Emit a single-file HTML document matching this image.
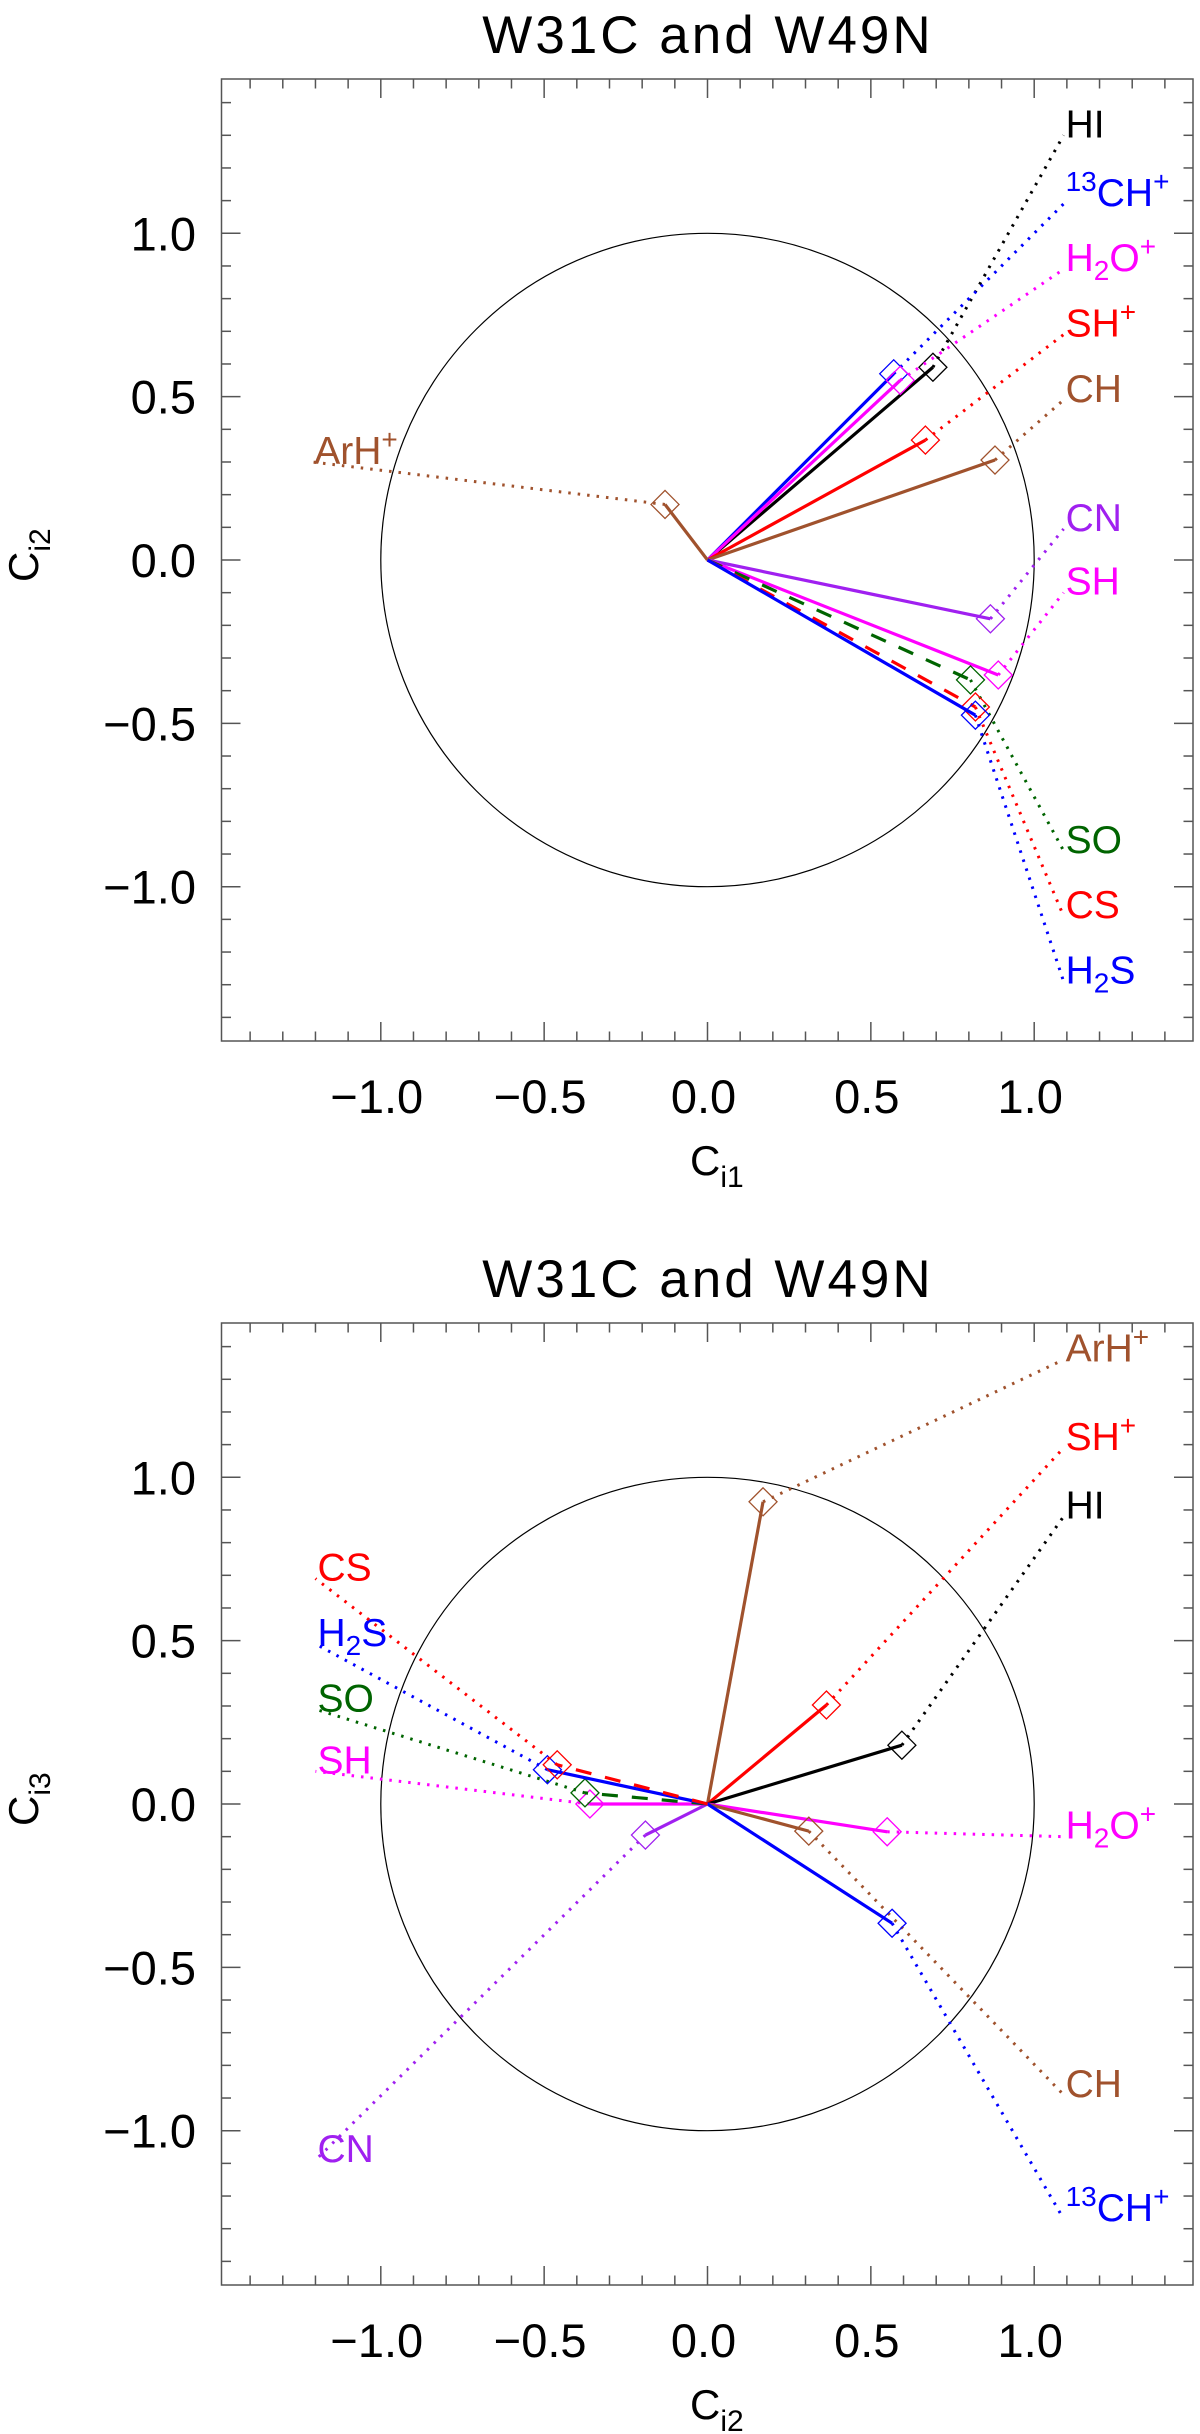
<!DOCTYPE html>
<html><head><meta charset="utf-8">
<style>
html,body{margin:0;padding:0;background:#fff;}
svg{display:block;font-family:"Liberation Sans",sans-serif;}
</style></head>
<body>
<svg id="fig" width="1200" height="2434" viewBox="0 0 1200 2434" xmlns="http://www.w3.org/2000/svg"></svg>
<script>
// ---- data: panel 1 (Ci1 vs Ci2) ----
const names1 = ["HI","13CH+","H2O+","SH+","CH","ArH+","CN","SH","SO","CS","H2S"];
const vx1 = [0.69,0.57,0.59,0.667,0.88,-0.13,0.866,0.89,0.805,0.82,0.82];
const vy1 = [0.59,0.57,0.55,0.367,0.306,0.17,-0.18,-0.352,-0.367,-0.45,-0.475];
const lx1 = [1.09,1.09,1.09,1.09,1.09,-1.21,1.09,1.09,1.09,1.09,1.09];
const ly1 = [1.30,1.09,0.89,0.69,0.49,0.30,0.095,-0.10,-0.89,-1.09,-1.29];
// ---- data: panel 2 (Ci2 vs Ci3) ----
const names2 = ["ArH+","SH+","HI","H2O+","CH","13CH+","CN","SH","SO","H2S","CS"];
const vx2 = [0.17,0.364,0.595,0.55,0.31,0.565,-0.19,-0.36,-0.375,-0.49,-0.46];
const vy2 = [0.925,0.303,0.18,-0.085,-0.083,-0.365,-0.095,0.0,0.034,0.105,0.12];
const lx2 = [1.09,1.09,1.09,1.09,1.09,1.09,-1.2,-1.2,-1.2,-1.2,-1.2];
const ly2 = [1.36,1.09,0.88,-0.10,-0.89,-1.27,-1.09,0.10,0.29,0.49,0.69];
const xticks = [-1.0,-0.5,0.0,0.5,1.0];
const yticks = [-1.0,-0.5,0.0,0.5,1.0];

const COL = {"HI":"#000","13CH+":"#0000ff","H2O+":"#ff00ff","SH+":"#ff0000","CH":"#a0522d","ArH+":"#a0522d",
  "CN":"#a020f0","SH":"#ff00ff","SO":"#006400","CS":"#ff0000","H2S":"#0000ff"};
const DASHED = {"SO":true,"CS":true};
const LBL = {"HI":["HI"],"13CH+":[["13","sup"],"CH",["+","sup"]],"H2O+":["H",["2","sub"],"O",["+","sup"]],
  "SH+":["SH",["+","sup"]],"CH":["CH"],"ArH+":["ArH",["+","sup"]],"CN":["CN"],"SH":["SH"],"SO":["SO"],"CS":["CS"],"H2S":["H",["2","sub"],"S"]};

const NS="http://www.w3.org/2000/svg";
const svg=document.getElementById('fig');
function mk(tag,attrs,parent){const e=document.createElementNS(NS,tag);for(const k in attrs)e.setAttribute(k,attrs[k]);(parent||svg).appendChild(e);return e;}

function panel(p){
  const L=221.5,R=1193,T=p.top,B=p.top+962,X0=707.5,Y0=p.top+481,U=326.7;
  const sx=v=>X0+v*U, sy=v=>Y0-v*U;
  const g=mk('g',{});
  
  
  const t=mk('text',{x:708,y:T-26,'font-size':53,'text-anchor':'middle','letter-spacing':'3'},g);
  t.textContent='W31C and W49N';
  
  
  const fr=mk('rect',{x:L,y:T,width:R-L,height:B-T,fill:'none',stroke:'#555','stroke-width':1.5},g);
  
  
  for(let i=-14;i<=14;i++){
    const v=i/10, major=(i%5===0), len=major?19:9.5;
    const x=sx(v); if(x>L+1&&x<R-1){
      mk('line',{x1:x,y1:B,x2:x,y2:B-len,stroke:'#555','stroke-width':1.5},g);
      mk('line',{x1:x,y1:T,x2:x,y2:T+len,stroke:'#555','stroke-width':1.5},g);}
    const y=sy(v); if(y>T+1&&y<B-1){
      mk('line',{x1:L,y1:y,x2:L+len,y2:y,stroke:'#555','stroke-width':1.5},g);
      mk('line',{x1:R,y1:y,x2:R-len,y2:y,stroke:'#555','stroke-width':1.5},g);}
  }
  xticks.forEach(v=>{const s=mk('text',{x:sx(v)-4,y:B+72,'font-size':47,'text-anchor':'middle'},g);
    s.textContent=(v<0?'\u2212':'')+Math.abs(v).toFixed(1);
    
    });
  yticks.forEach(v=>{const s=mk('text',{x:196,y:sy(v)+17,'font-size':47,'text-anchor':'end'},g);
    s.textContent=(v<0?'\u2212':'')+Math.abs(v).toFixed(1);
    
    });
  const xt=mk('text',{x:690,y:B+134,'font-size':42},g);
  xt.innerHTML='C<tspan font-size="30" dy="12">'+p.xsub+'</tspan>';
  
  
  const yt=mk('text',{x:0,y:0,'font-size':42,transform:`translate(38,${Y0+22}) rotate(-90)`},g);
  yt.innerHTML='C<tspan font-size="30" dy="12">'+p.ysub+'</tspan>';
  
  
  const c=mk('circle',{cx:X0,cy:Y0,r:U,fill:'none',stroke:'#000','stroke-width':1.2},g);
  
  
  p.names.forEach((n,i)=>{
    const col=COL[n];
    const px=sx(p.vx[i]),py=sy(p.vy[i]),ex=sx(p.lx[i]),ey=sy(p.ly[i]);
    const dot=mk('line',{x1:px,y1:py,x2:ex,y2:ey,stroke:col,'stroke-width':3,'stroke-dasharray':'2.5 7'},g);
    
    
    const ln=mk('line',{x1:X0,y1:Y0,x2:px,y2:py,stroke:col,'stroke-width':3.2},g);
    if(DASHED[n]) ln.setAttribute('stroke-dasharray','16 14');
    
    
    const d=14;
    const dm=mk('polygon',{points:`${px},${py-d} ${px+d},${py} ${px},${py+d} ${px-d},${py}`,fill:'none',stroke:col,'stroke-width':1.3},g);
    
    
    const tx=mk('text',{x:ex+2,y:ey+2,'font-size':39,fill:col},g);
    let html='', cur=0;
    LBL[n].forEach(part=>{
      let txt, off, fs;
      if(typeof part==='string'){txt=part;off=0;fs=39;}
      else if(part[1]==='sup'){txt=part[0];off=-15;fs=28;}
      else {txt=part[0];off=9;fs=28;}
      html+=`<tspan font-size="${fs}" dy="${off-cur}">${txt}</tspan>`;
      cur=off;
    });
    tx.innerHTML=html;
    
    
  });
}
panel({id:'panel-ci1-ci2',top:79,names:names1,vx:vx1,vy:vy1,lx:lx1,ly:ly1,xsub:'i1',ysub:'i2'});
panel({id:'panel-ci2-ci3',top:1323,names:names2,vx:vx2,vy:vy2,lx:lx2,ly:ly2,xsub:'i2',ysub:'i3'});
</script>
</body></html>
